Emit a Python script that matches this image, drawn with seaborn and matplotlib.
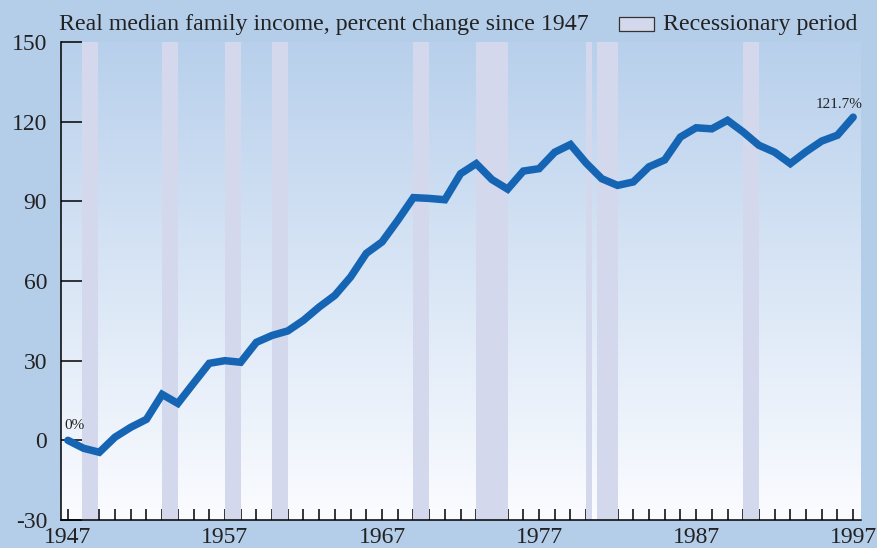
import numpy as np
import pandas as pd
import seaborn as sns
import matplotlib.pyplot as plt
from matplotlib.patches import Rectangle

# data
years = list(range(1947, 1998))
pct_change = [
    0, -3, -4.5, 1.2, 4.9, 7.9, 17.3, 13.9, 21.5, 29.0,
    30.0, 29.4, 36.9, 39.5, 41.2, 45.2, 50.2, 54.6, 61.5, 70.4,
    74.7, 82.8, 91.4, 91.1, 90.6, 100.4, 104.2, 98.2, 94.6, 101.4,
    102.3, 108.5, 111.4, 104.4, 98.5, 96.0, 97.3, 103.0, 105.6, 114.2,
    117.7, 117.3, 120.5, 116.1, 111.1, 108.5, 104.2, 108.7, 112.7, 114.9,
    121.7,
]
recession_start = [1947.9, 1953.0, 1957.0, 1960.0, 1969.0, 1973.0, 1980.0, 1980.7, 1990.0]
recession_end = [1948.9, 1954.0, 1958.0, 1961.0, 1970.0, 1975.0, 1980.4, 1982.0, 1991.0]
y_ticks = [-30, 0, 30, 60, 90, 120, 150]
x_labels = [1947, 1957, 1967, 1977, 1987, 1997]

df = pd.DataFrame({"year": years, "pct": pct_change})

bg = "#b4cde9"
bar_color = "#d4d8ec"
line_color = "#1565b4"
text_color = "#222222"

sns.set_style("white")
plt.rcParams["font.family"] = ["Liberation Serif", "DejaVu Serif"]

fig = plt.figure(figsize=(8.78, 5.48), dpi=100, facecolor=bg)
ax = fig.add_axes([61 / 878, 1 - 520 / 548, 800 / 878, 478 / 548])

# vertical gradient behind the plot
top = np.array([184, 208, 236]) / 255
bottom = np.array([251, 252, 255]) / 255
t = np.linspace(0, 1, 256)[:, None]
grad = (bottom * (1 - t) + top * t)[:, None, :]
ax.imshow(grad, extent=[0, 1, 0, 1], transform=ax.transAxes, aspect="auto",
          origin="lower", zorder=0)

for s, e in zip(recession_start, recession_end):
    ax.axvspan(s, e, color=bar_color, lw=0, zorder=1)

sns.lineplot(data=df, x="year", y="pct", ax=ax, color=line_color, lw=5.4,
             zorder=3, solid_joinstyle="miter")

ax.set_xlim(1946.56, 1997.5)
ax.set_ylim(-30, 150)
ax.set_xlabel("")
ax.set_ylabel("")

ax.set_yticks(y_ticks)
ax.set_yticklabels([str(v) for v in y_ticks], fontsize=17, color=text_color)
ax.set_xticks(years)
ax.set_xticklabels([str(y) if y in x_labels else "" for y in years],
                   fontsize=17, color=text_color)
ax.tick_params(axis="y", direction="in", length=15, width=1.1, pad=10,
               left=True, color="black")
ax.tick_params(axis="x", direction="in", length=8, width=1.1, pad=5,
               bottom=True, color="black")

for side in ["top", "right"]:
    ax.spines[side].set_visible(False)
for side in ["left", "bottom"]:
    ax.spines[side].set_color("black")
    ax.spines[side].set_linewidth(1.1)
    ax.spines[side].set_zorder(4)

ax.text(1946.75, 3.2, "0%", fontsize=11, color=text_color, ha="left", va="bottom")
ax.text(1997.62, 124.2, "121.7%", fontsize=11, color=text_color, ha="right", va="bottom")

fig.text(59 / 878, 1 - 30 / 548, "Real median family income, percent change since 1947",
         fontsize=17.2, color=text_color, ha="left", va="baseline")
fig.patches.append(Rectangle((619 / 878, 1 - 31 / 548), 35 / 878, 14 / 548,
                             transform=fig.transFigure, facecolor=bar_color,
                             edgecolor="#333333", lw=0.9))
fig.text(663 / 878, 1 - 30 / 548, "Recessionary period", fontsize=17.2,
         color=text_color, ha="left", va="baseline")

fig.savefig("out.png", dpi=100, facecolor=bg)
